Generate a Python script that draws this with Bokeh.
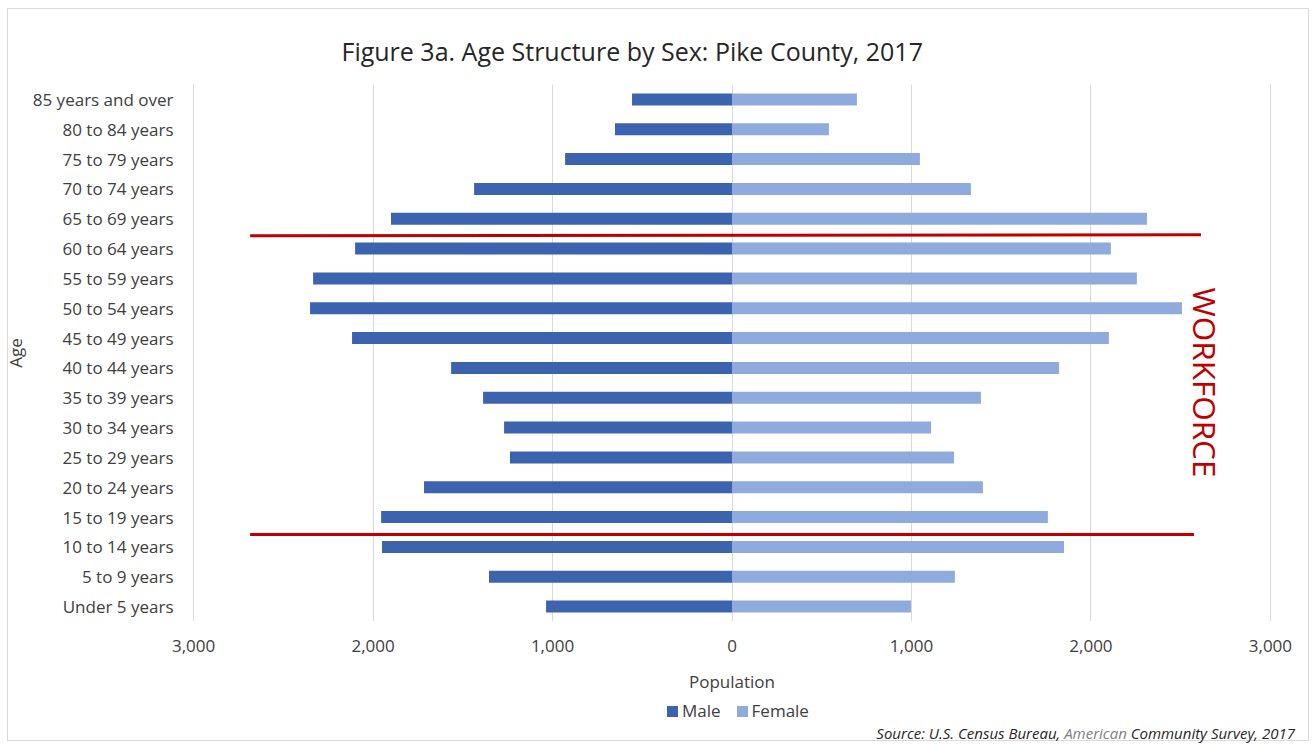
import math
from bokeh.plotting import figure
from bokeh.layouts import column
from bokeh.models import (ColumnDataSource, Range1d, FixedTicker, Label, Title, Div)
from bokeh.embed import file_html
from bokeh.resources import INLINE

# ---------------- data ----------------
ages = ["Under 5 years", "5 to 9 years", "10 to 14 years", "15 to 19 years",
        "20 to 24 years", "25 to 29 years", "30 to 34 years", "35 to 39 years",
        "40 to 44 years", "45 to 49 years", "50 to 54 years", "55 to 59 years",
        "60 to 64 years", "65 to 69 years", "70 to 74 years", "75 to 79 years",
        "80 to 84 years", "85 years and over"]
male = [1036, 1354, 1950, 1955, 1716, 1237, 1270, 1387, 1565, 2117,
        2351, 2334, 2100, 1900, 1437, 930, 652, 557]
female = [997, 1242, 1850, 1760, 1398, 1237, 1109, 1387, 1822, 2100,
          2507, 2256, 2111, 2312, 1331, 1047, 540, 696]
x_ticks = [-3000, -2000, -1000, 0, 1000, 2000, 3000]
x_tick_labels = ["3,000", "2,000", "1,000", "0", "1,000", "2,000", "3,000"]
series_names = ["Male", "Female"]

# workforce bracket lines (data units, hand-drawn in the original)
wf_lines_x = [[-2685, 2613], [-2685, 2574]]
wf_lines_y = [[12.43, 12.46], [2.42, 2.42]]

FONT = "Open Sans"
TXT = "#404040"
MALE_C = "#3c64ae"
FEMALE_C = "#8faadc"
RED = "#c00000"

idx = list(range(len(ages)))
src = ColumnDataSource(dict(
    y=idx,
    male_left=[-m for m in male],
    female_right=female,
    zero=[0] * len(ages),
))

p = figure(width=1296, height=700, output_backend="svg", toolbar_location=None,
           x_range=Range1d(-3006, 3006), y_range=Range1d(-0.5, 17.5),
           min_border_left=192, min_border_right=25, min_border_top=84,
           min_border_bottom=79)
p.outline_line_color = None
p.background_fill_color = "white"
p.border_fill_color = "white"

# title
t = Title(text="Figure 3a. Age Structure by Sex: Pike County, 2017",
          text_font=FONT, text_font_size="25px", text_font_style="normal",
          text_color="#262626", align="left", offset=149, standoff=34)
p.add_layout(t, "above")

# grid
p.ygrid.grid_line_color = None
p.xgrid.ticker = FixedTicker(ticks=x_ticks)
p.xgrid.grid_line_color = "#d9d9d9"
p.xgrid.grid_line_width = 1

# bars
mr = p.hbar(y="y", left="male_left", right="zero", height=0.4, source=src,
            fill_color=MALE_C, line_color=None)
fr = p.hbar(y="y", left="zero", right="female_right", height=0.4, source=src,
            fill_color=FEMALE_C, line_color=None)

# workforce lines
p.multi_line(xs=wf_lines_x, ys=wf_lines_y, line_color=RED, line_width=3)

# axes
xa = p.xaxis[0]
xa.ticker = FixedTicker(ticks=x_ticks)
xa.major_label_overrides = {t_: l for t_, l in zip(x_ticks, x_tick_labels)}
xa.axis_line_color = None
xa.major_tick_line_color = None
xa.minor_tick_line_color = None
xa.major_label_standoff = 12
xa.major_label_text_font = FONT
xa.major_label_text_font_size = "17px"
xa.major_label_text_color = TXT
xa.axis_label = "Population"
xa.axis_label_standoff = 15
xa.axis_label_text_font = FONT
xa.axis_label_text_font_size = "17px"
xa.axis_label_text_font_style = "normal"
xa.axis_label_text_color = TXT

ya = p.yaxis[0]
ya.ticker = FixedTicker(ticks=idx)
ya.major_label_overrides = {i: a for i, a in zip(idx, ages)}
ya.axis_line_color = None
ya.major_tick_line_color = None
ya.minor_tick_line_color = None
ya.major_label_standoff = 13
ya.major_label_text_font = FONT
ya.major_label_text_font_size = "17px"
ya.major_label_text_color = TXT
ya.axis_label = "Age"
ya.axis_label_standoff = 3
ya.axis_label_text_font = FONT
ya.axis_label_text_font_size = "17px"
ya.axis_label_text_font_style = "normal"
ya.axis_label_text_color = TXT

# WORKFORCE annotation (inside plot area)
p.add_layout(Label(x=2638, y=7.51, text="WORKFORCE", angle=-math.pi / 2,
                   text_font=FONT, text_font_size="31.5px", text_color=RED,
                   text_align="center", text_baseline="middle"))

sq = ("display:inline-block;width:11px;height:11px;vertical-align:middle;"
      "position:relative;top:-1px;")
legend_html = (
    f'<span style="{sq}background:{MALE_C};margin-right:4px;"></span>{series_names[0]}'
    f'<span style="{sq}background:{FEMALE_C};margin-left:16px;margin-right:4px;"></span>{series_names[1]}'
)
source_html = ('Source: U.S. Census Bureau, <span style="color:#808080">American</span> '
               'Community Survey, 2017')
html = (
    '<div style="position:relative;width:1296px;height:42px;">'
    # light chart border around the whole chart
    '<div style="position:absolute;left:7px;top:-692px;width:1302px;height:733px;'
    'border:1px solid #d9d9d9;box-sizing:border-box;pointer-events:none;"></div>'
    '<div style="position:absolute;left:667px;top:0px;height:22px;line-height:22px;'
    f'font-family:\'Open Sans\';font-size:17px;color:{TXT};white-space:nowrap;">'
    f'{legend_html}</div>'
    '<div style="position:absolute;left:0px;width:1295px;top:24px;height:18px;'
    'line-height:18px;text-align:right;font-family:\'Open Sans\';font-style:italic;'
    f'font-size:15px;color:#262626;white-space:nowrap;">{source_html}</div>'
    '</div>'
)
bottom_div = Div(text=html, width=1296, height=42, margin=0)

layout = column(p, bottom_div, spacing=0)
open("out.html", "w").write(file_html(layout, INLINE))
